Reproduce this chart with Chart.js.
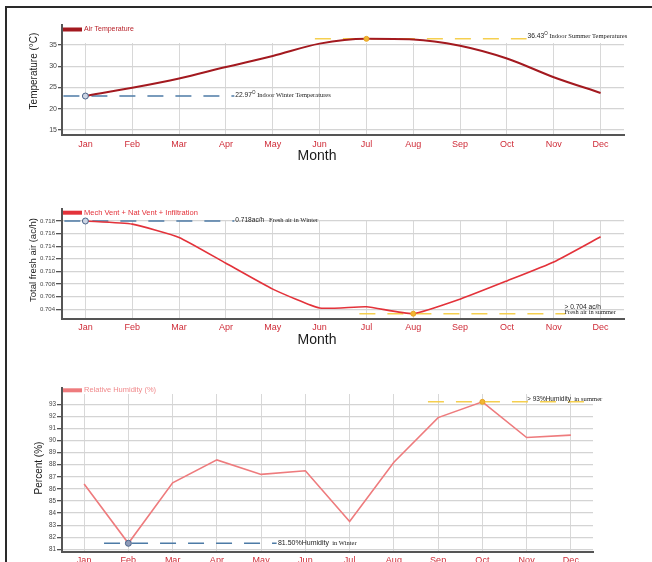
<!DOCTYPE html>
<html>
<head>
<meta charset="utf-8">
<title>Monthly indoor conditions</title>
<script src="https://cdn.jsdelivr.net/npm/chart.js@4/dist/chart.umd.min.js"></script>
<style>
  html, body { margin: 0; padding: 0; background: #fff; width: 652px; height: 562px; overflow: hidden; }
  canvas { position: absolute; left: 0; }
  #frame { position: absolute; left: 5px; top: 6px; width: 700px; height: 600px;
           border-left: 2px solid #2a2a2a; border-top: 2px solid #2a2a2a; box-sizing: border-box; }
</style>
</head>
<body>
<canvas id="tempChart" width="652" height="170" style="top:0px"></canvas>
<canvas id="airChart" width="652" height="170" style="top:185px"></canvas>
<canvas id="humChart" width="652" height="200" style="top:375px"></canvas>
<div id="frame"></div>
<script>
// ---- data ----
const months = ['Jan', 'Feb', 'Mar', 'Apr', 'May', 'Jun', 'Jul', 'Aug', 'Sep', 'Oct', 'Nov', 'Dec'];
const airTemperature = [22.97, 24.9, 27.1, 29.8, 32.4, 35.3, 36.43, 36.3, 34.8, 31.8, 27.4, 23.7];
const freshAir = [0.718, 0.7175, 0.7154, 0.7113, 0.7072, 0.7042, 0.7044, 0.7033, 0.7056, 0.7085, 0.7115, 0.7155];
const humidity = [86.4, 81.5, 86.5, 88.4, 87.2, 87.5, 83.3, 88.2, 91.9, 93.2, 90.25, 90.45];
const temperatureTicks = [15, 20, 25, 30, 35];
const freshAirTicks = [0.704, 0.706, 0.708, 0.710, 0.712, 0.714, 0.716, 0.718];
const humidityTicks = [81, 82, 83, 84, 85, 86, 87, 88, 89, 90, 91, 92, 93];

const SANS = '"Liberation Sans", Arial, sans-serif';
const SERIF = '"Liberation Serif", "Times New Roman", serif';
const WINTER = '#4d7ba6';
const SUMMER = 'rgba(244, 204, 70, 0.95)';
const AXIS = '#555555';

const argMin = a => a.indexOf(Math.min(...a));
const argMax = a => a.indexOf(Math.max(...a));

// draws a run of text pieces left to right
function drawParts(ctx, x, y, parts) {
  ctx.textBaseline = 'middle';
  ctx.textAlign = 'left';
  ctx.fillStyle = '#222';
  for (const p of parts) {
    ctx.font = p.font;
    ctx.fillText(p.text, x, y + (p.rise || 0));
    x += ctx.measureText(p.text).width;
  }
}

// axis extension, threshold lines, captions, legend and axis titles
const decorPlugin = {
  id: 'decor',
  beforeDatasetsDraw(chart, args, o) {
    const { ctx, chartArea: a, scales: { x, y } } = chart;
    ctx.save();
    ctx.strokeStyle = AXIS;
    ctx.lineWidth = 2;
    ctx.beginPath();
    ctx.moveTo(a.left, a.top - o.axisRise);
    ctx.lineTo(a.left, a.top + 1);
    ctx.stroke();
    for (const t of o.thresholds) {
      const py = y.getPixelForValue(t.value);
      ctx.strokeStyle = t.color;
      ctx.lineWidth = 1.5;
      ctx.setLineDash([16, 12]);
      ctx.beginPath();
      ctx.moveTo(x.getPixelForValue(t.from), py);
      ctx.lineTo(x.getPixelForValue(t.to), py);
      ctx.stroke();
    }
    ctx.restore();
  },
  afterDatasetsDraw(chart, args, o) {
    const { ctx, chartArea: a, scales: { x, y } } = chart;
    ctx.save();
    for (const c of o.captions) {
      drawParts(ctx, x.getPixelForValue(c.at), y.getPixelForValue(c.value) + c.dy, c.parts);
    }
    // legend
    const ds = chart.data.datasets[0];
    const ly = a.top - o.legendRise;
    ctx.fillStyle = ds.borderColor;
    ctx.fillRect(a.left + 1, ly - 2, 19, 4);
    ctx.font = o.legendFont;
    ctx.textBaseline = 'middle';
    ctx.textAlign = 'left';
    ctx.fillStyle = o.legendColor;
    ctx.fillText(ds.label, a.left + 22, ly);
    // axis titles
    ctx.fillStyle = '#1a1a1a';
    ctx.textAlign = 'center';
    if (o.yTitle) {
      ctx.save();
      ctx.translate(o.yTitle.x, o.yTitle.y);
      ctx.rotate(-Math.PI / 2);
      ctx.font = o.yTitle.font;
      ctx.fillText(o.yTitle.text, 0, 0);
      ctx.restore();
    }
    if (o.xTitle) {
      ctx.font = o.xTitle.font;
      ctx.fillText(o.xTitle.text, o.xTitle.x, o.xTitle.y);
    }
    ctx.restore();
  }
};

function buildChart(id, o) {
  const wi = o.winterIdx, si = o.summerIdx;
  return new Chart(document.getElementById(id), {
    type: 'line',
    data: {
      labels: months,
      datasets: [{
        label: o.label,
        data: o.data,
        borderColor: o.color,
        borderWidth: o.lineWidth,
        tension: o.tension,
        cubicInterpolationMode: o.monotone ? 'monotone' : 'default',
        clip: false,
        pointStyle: 'circle',
        pointRadius: c => c.dataIndex === wi ? 3 : (c.dataIndex === si ? 2.5 : 0),
        pointBackgroundColor: c => c.dataIndex === wi ? o.winterFill : '#f2b632',
        pointBorderColor: c => c.dataIndex === wi ? '#4b6488' : '#e6a526',
        pointBorderWidth: 1
      }]
    },
    options: {
      responsive: false,
      devicePixelRatio: 1,
      animation: false,
      events: [],
      layout: { padding: o.padding },
      scales: {
        x: {
          type: 'category',
          offset: true,
          grid: { color: '#d8d8d8', lineWidth: 1, drawTicks: false, offset: false },
          border: { color: AXIS, width: 2 },
          ticks: { color: '#cf2c38', font: { size: 9, family: SANS }, padding: o.xPad, maxRotation: 0, autoSkip: false },
          afterFit(s) { s.height = o.xHeight; }
        },
        y: {
          min: o.min,
          max: o.max,
          afterBuildTicks(s) { s.ticks = o.ticks.map(v => ({ value: v })); },
          grid: { color: '#d4d4d4', lineWidth: 1.3, tickColor: AXIS, tickLength: o.tickLen, tickWidth: 1.3 },
          border: { color: AXIS, width: 2 },
          ticks: { color: '#444', font: { size: o.tickFont, family: SANS }, padding: 1, callback: o.fmt },
          afterFit(s) { s.width = 42; }
        }
      },
      plugins: {
        legend: { display: false },
        title: { display: false },
        tooltip: { enabled: false },
        decor: o.decor
      }
    },
    plugins: [decorPlugin]
  });
}

// ---- air temperature ----
const tWin = argMin(airTemperature), tSum = argMax(airTemperature);
buildChart('tempChart', {
  label: 'Air Temperature', data: airTemperature, color: '#a3191f', lineWidth: 2,
  tension: 0.4, monotone: true, winterIdx: tWin, summerIdx: tSum, winterFill: '#cdd5e4',
  min: 13.8, max: 35.45, ticks: temperatureTicks, fmt: v => String(v), tickFont: 7, tickLen: 4,
  padding: { left: 20, top: 43, right: 28, bottom: 0 }, xHeight: 35, xPad: 4,
  decor: {
    axisRise: 19, legendRise: 13.5, legendColor: '#b8222a', legendFont: '7px ' + SANS,
    thresholds: [
      { value: airTemperature[tWin], from: -0.47, to: 3.18, color: WINTER },
      { value: airTemperature[tSum], from: 4.9, to: 9.42, color: SUMMER }
    ],
    captions: [
      { at: 3.2, value: airTemperature[tWin], dy: -1, parts: [
        { text: airTemperature[tWin].toFixed(2), font: '6.7px ' + SANS },
        { text: 'O', font: '4.5px ' + SANS, rise: -2.5 },
        { text: ' Indoor Winter Temperatures', font: '6.5px ' + SERIF }] },
      { at: 9.44, value: airTemperature[tSum], dy: -2.5, parts: [
        { text: airTemperature[tSum].toFixed(2), font: '6.7px ' + SANS },
        { text: 'O', font: '4.5px ' + SANS, rise: -2.5 },
        { text: ' Indoor Summer Temperatures', font: '6.5px ' + SERIF }] }
    ],
    yTitle: { text: 'Temperature (°C)', x: 34, y: 71, font: '10px ' + SANS },
    xTitle: { text: 'Month', x: 317, y: 156, font: '14px ' + SANS }
  }
});

// ---- total fresh air ----
const aWin = argMax(freshAir), aSum = argMin(freshAir);
buildChart('airChart', {
  label: 'Mech Vent + Nat Vent + Infiltration', data: freshAir, color: '#e3323a', lineWidth: 1.6,
  tension: 0.15, monotone: false, winterIdx: aWin, summerIdx: aSum, winterFill: '#cdd5e4',
  min: 0.70246, max: 0.71816, ticks: freshAirTicks, fmt: v => v.toFixed(3), tickFont: 6, tickLen: 6,
  padding: { left: 20, top: 35, right: 28, bottom: 0 }, xHeight: 36, xPad: 3,
  decor: {
    axisRise: 12, legendRise: 7.3, legendColor: '#e3323a', legendFont: '7.5px ' + SANS,
    thresholds: [
      { value: freshAir[aWin], from: -0.45, to: 3.18, color: WINTER },
      { value: freshAir[aSum], from: 5.85, to: 10.25, color: SUMMER }
    ],
    captions: [
      { at: 3.2, value: freshAir[aWin], dy: -1, parts: [
        { text: freshAir[aWin].toFixed(3) + 'ac/h', font: '6.6px ' + SANS },
        { text: '   Fresh air in Winter', font: '6.5px ' + SERIF }] },
      { at: 10.23, value: freshAir[aSum], dy: -6.3, parts: [
        { text: '> 0.704 ac/h', font: '6.6px ' + SANS }] },
      { at: 10.23, value: freshAir[aSum], dy: -1.7, parts: [
        { text: 'Fresh air in summer', font: '6.4px ' + SERIF }] }
    ],
    yTitle: { text: 'Total fresh air (ac/h)', x: 33, y: 75, font: '9.5px ' + SANS },
    xTitle: { text: 'Month', x: 317, y: 155, font: '14px ' + SANS }
  }
});

// ---- relative humidity ----
const hWin = argMin(humidity), hSum = argMax(humidity);
buildChart('humChart', {
  label: 'Relative Humidity (%)', data: humidity, color: '#ee7b7d', lineWidth: 1.6,
  tension: 0, monotone: false, winterIdx: hWin, summerIdx: hSum, winterFill: '#8e9bb9',
  min: 80.78, max: 93.85, ticks: humidityTicks, fmt: v => String(v), tickFont: 6.3, tickLen: 5,
  padding: { left: 20, top: 19, right: 59, bottom: 0 }, xHeight: 23, xPad: 3,
  decor: {
    axisRise: 7, legendRise: 3.7, legendColor: '#f08a8c', legendFont: '7.5px ' + SANS,
    thresholds: [
      { value: humidity[hWin], from: 0.45, to: 4.35, color: WINTER },
      { value: humidity[hSum], from: 7.77, to: 11.5, color: SUMMER }
    ],
    captions: [
      { at: 4.38, value: humidity[hWin], dy: 0, parts: [
        { text: humidity[hWin].toFixed(2) + '%Humidity', font: '7px ' + SANS },
        { text: '  in Winter', font: '6.5px ' + SERIF }] },
      { at: 10.01, value: humidity[hSum], dy: -3, parts: [
        { text: '> 93%Humidity', font: '6.5px ' + SANS },
        { text: '  in summer', font: '6.6px ' + SERIF }] }
    ],
    yTitle: { text: 'Percent (%)', x: 39, y: 93, font: '10px ' + SANS },
    xTitle: null
  }
});
</script>
</body>
</html>
